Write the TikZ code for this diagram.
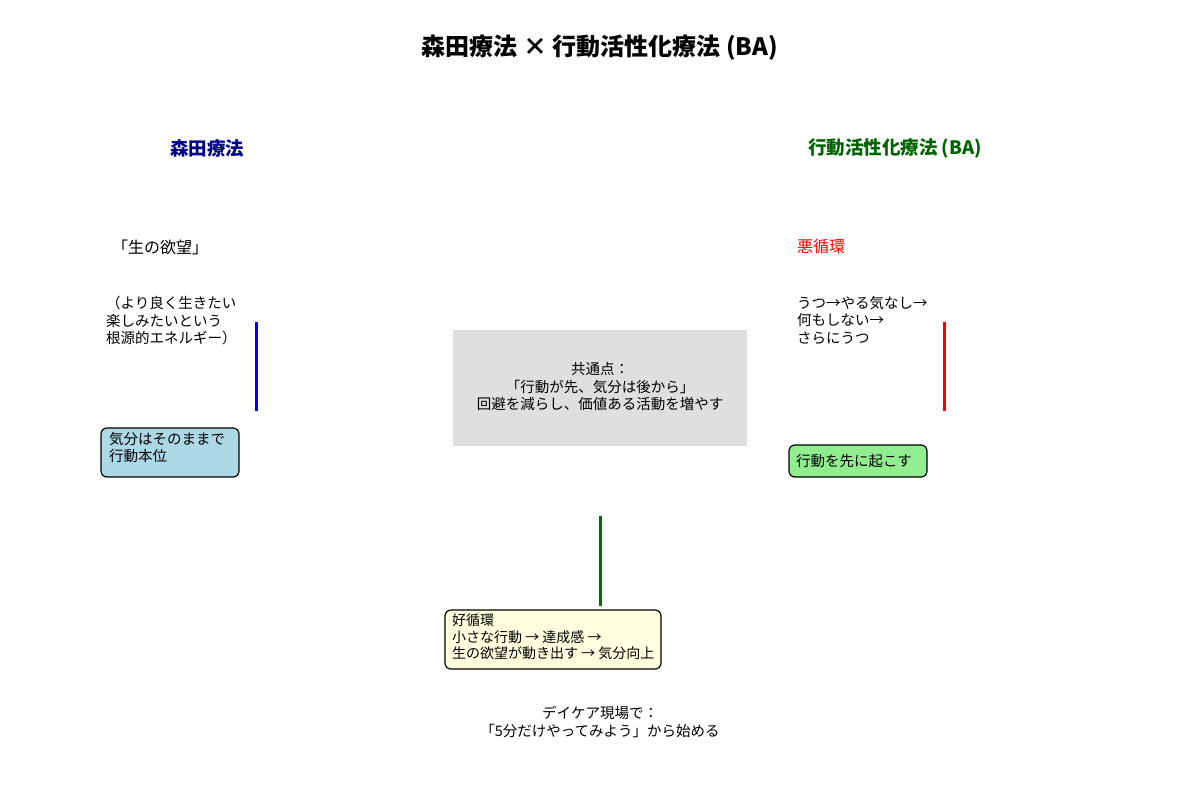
\documentclass[tikz,border=0pt]{standalone}
\usepackage{fontspec}
\setmainfont{Noto Sans CJK JP}
\definecolor{navyc}{RGB}{0,0,139}
\definecolor{dgreen}{RGB}{0,100,0}
\definecolor{lgreen}{RGB}{0,110,0}
\definecolor{lblue}{RGB}{173,216,230}
\definecolor{lgr}{RGB}{144,238,144}
\definecolor{lyel}{RGB}{255,255,224}
\begin{document}
\begin{tikzpicture}[x=1pt,y=-1pt,
  txt/.style={font=\fontsize{14.5}{17.5}\selectfont,align=left,inner sep=0pt},
  vline/.style={line width=3pt},
  rb/.style={rounded corners=6pt,line width=1.2pt}]
\useasboundingbox (0,0) rectangle (1200,796);
\node[font=\bfseries\fontsize{24}{28}\selectfont] (title) at (600,48) {森田療法 × 行動活性化療法 (BA)};
\node[font=\bfseries\fontsize{18.5}{22}\selectfont,text=navyc] (lh) at (207,148) {森田療法};
\node[font=\bfseries\fontsize{18.5}{22}\selectfont,text=dgreen] (rh) at (895,148) {行動活性化療法 (BA)};
\node[txt,anchor=west,font=\fontsize{16}{19}\selectfont] (yoku) at (112,247) {「生の欲望」};
\node[txt,anchor=north west] (desc) at (106,296) {（より良く生きたい\\楽しみたいという\\根源的エネルギー）};
\node[txt,anchor=west,text=red,font=\fontsize{16}{19}\selectfont] (aku) at (797,246) {悪循環};
\node[txt,anchor=north west] (utsu) at (797,296) {うつ→やる気なし→\\何もしない→\\さらにうつ};
\coordinate (b1) at (256,322); \coordinate (b2) at (256,411);
\draw[vline,blue] (b1) -- (b2);
\coordinate (r1) at (944,322); \coordinate (r2) at (944,411);
\draw[vline,red] (r1) -- (r2);
\coordinate (g1) at (600,516); \coordinate (g2) at (600,606);
\draw[vline,lgreen] (g1) -- (g2);
\fill[gray!25] (453,330) rectangle (747,446);
\node[txt,align=center] (common) at (600,387) {共通点：\\「行動が先、気分は後から」\\回避を減らし、価値ある活動を増やす};
\draw[rb,fill=lblue] (101,428) rectangle (239,477);
\node[txt,anchor=north west] (kibun) at (109,432) {気分はそのままで\\行動本位};
\draw[rb,fill=lgr] (789,445) rectangle (927,477);
\node[txt,anchor=west] (saki) at (796,461) {行動を先に起こす};
\draw[rb,fill=lyel] (445,610) rectangle (661,669);
\node[txt,anchor=north west,font=\fontsize{14}{16.5}\selectfont] (kou) at (452,614) {好循環\\小さな行動 → 達成感 →\\生の欲望が動き出す → 気分向上};
\node[txt,align=center] (day) at (600,722) {デイケア現場で：\\「5分だけやってみよう」から始める};
\end{tikzpicture}
\end{document}
